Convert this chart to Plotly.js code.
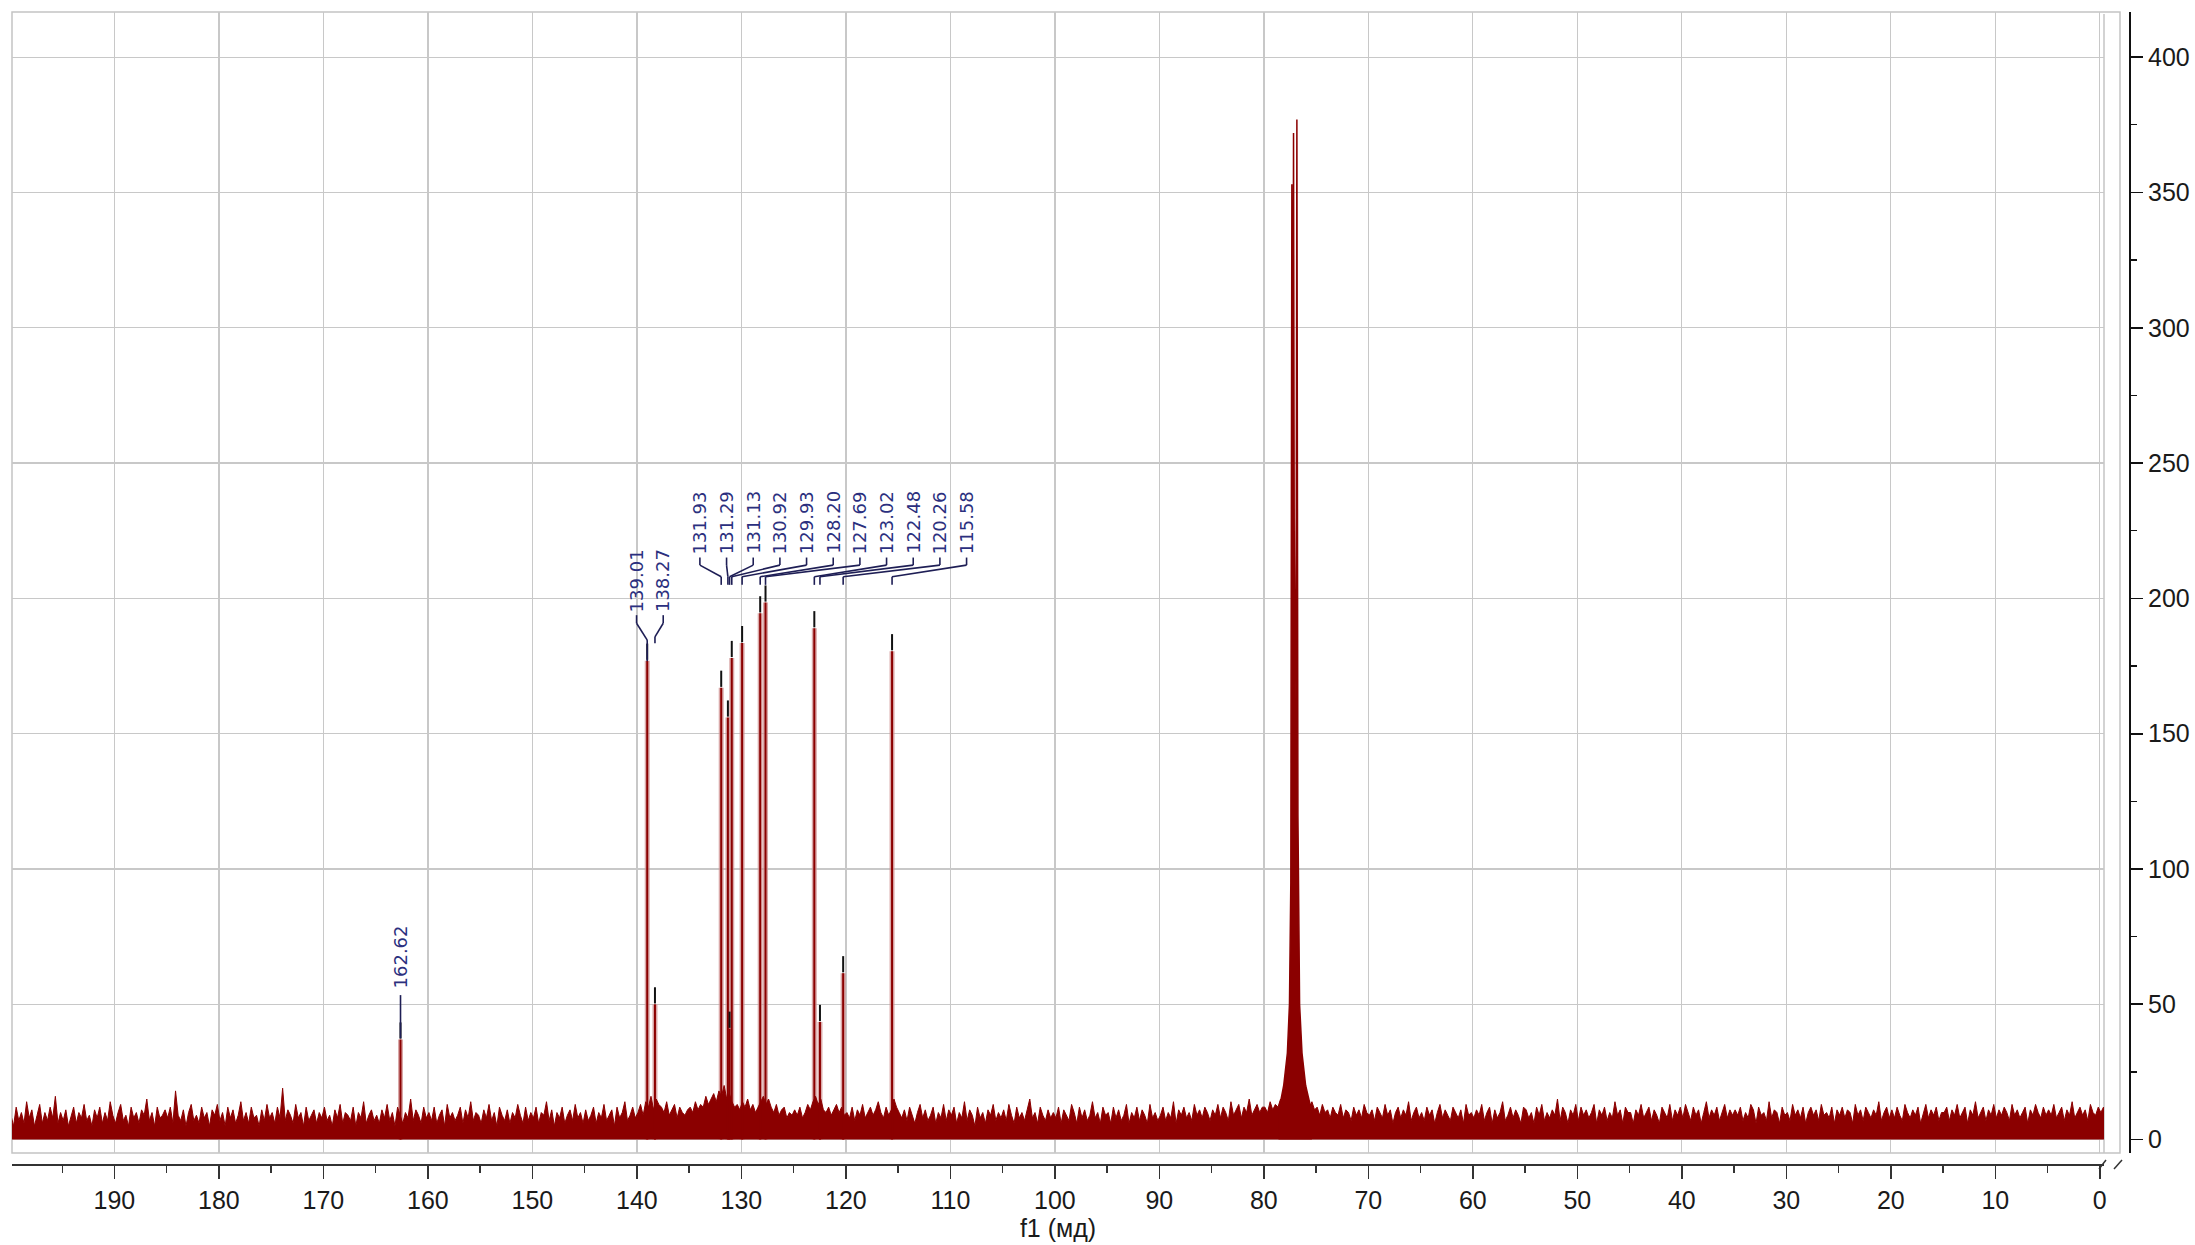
<!DOCTYPE html>
<html>
<head>
<meta charset="utf-8">
<script src="https://cdn.plot.ly/plotly-3.0.1.min.js"></script>
<style>html,body{margin:0;padding:0;background:#fff;}#chart{width:2195px;height:1245px;}</style>
</head>
<body>
<div id="chart"></div>
<script>
// ---------------- DATA ----------------
// Picked peaks (ppm) and their intensities
const peakPpm = [162.62, 139.01, 138.27, 131.93, 131.29, 131.13, 130.92, 129.93, 128.20, 127.69, 123.02, 122.48, 120.26, 115.58];
const peakInt = [37, 177, 50, 167, 156, 41, 178, 183.5, 194.5, 198.5, 189, 43.5, 61.5, 180.5];
const peakLabels = ["162.62", "139.01", "138.27", "131.93", "131.29", "131.13", "130.92", "129.93", "128.20", "127.69", "123.02", "122.48", "120.26", "115.58"];

// CDCl3 solvent multiplet profile
const solventPpm = [78.6, 78.1, 77.75, 77.55, 77.42, 77.32, 77.24, 77.16, 77.06, 76.98, 76.90, 76.84, 76.74, 76.58, 76.35, 76.0, 75.4];
const solventInt = [10, 20, 32, 50, 95, 353, 190, 372, 150, 175, 230, 377, 120, 50, 32, 20, 10];

// Baseline noise, sampled every 0.25 ppm starting at 199.9 ppm
const noiseStart = 199.9, noiseStep = 0.25;
const noiseInt = [
9,5,12,7,10,6,14,8,11,5,9,13,6,10,7,12,8,16,6,10,
7,11,5,9,12,6,10,8,13,7,9,5,11,8,12,6,10,7,14,9,
6,10,13,7,9,5,12,8,10,6,11,9,15,7,10,5,12,8,9,11,
8,12,6,18,9,7,11,5,10,13,7,9,6,12,8,10,5,11,9,13,
7,10,5,12,8,11,6,9,14,7,10,6,12,8,9,5,11,7,13,8,
10,6,12,8,19,7,11,9,6,13,8,10,5,12,7,9,11,6,10,8,
12,7,9,5,11,8,13,6,10,9,7,12,5,10,8,14,6,9,11,7,
9,6,11,8,13,7,10,5,12,9,6,10,8,15,7,11,9,6,12,8,
10,7,12,6,9,11,5,13,8,10,7,9,12,6,11,8,14,7,10,9,
6,11,8,13,7,10,5,12,9,7,11,6,10,8,13,9,6,12,7,10,
8,12,6,10,9,14,7,11,5,10,8,12,6,9,11,7,13,8,10,6,
11,7,9,12,6,10,8,13,7,9,11,5,12,8,10,14,7,9,12,8,
10,13,9,14,12,16,11,15,13,12,10,14,9,11,13,8,12,10,9,11,
12,10,14,11,13,12,16,13,15,17,14,18,16,20,15,17,14,12,13,11,
14,12,15,11,13,10,12,14,16,13,15,12,10,13,9,11,12,8,10,9,
11,9,12,8,10,13,11,14,16,13,15,11,10,12,9,11,13,10,12,9,
10,8,12,7,11,9,13,8,10,12,9,11,14,10,8,12,9,11,15,12,
10,8,11,7,12,9,6,10,13,8,11,7,9,12,6,10,8,13,7,11,
9,12,6,10,8,14,7,11,9,5,12,8,10,6,11,9,13,7,10,8,
11,7,13,9,6,12,8,10,7,11,15,8,10,6,12,9,7,11,8,10,
8,12,6,11,9,7,13,10,6,12,8,11,7,9,14,8,10,6,12,9,
10,6,12,8,11,7,9,13,6,10,8,12,7,11,9,6,13,8,10,7,
9,12,7,10,8,14,6,11,9,12,8,10,7,13,9,11,8,12,10,7,
11,9,13,8,12,10,7,14,9,11,13,8,12,10,15,9,11,13,10,12,
12,10,14,11,13,12,15,13,16,18,22,25,24,20,17,15,13,12,14,11,
12,9,13,10,11,8,12,10,9,13,8,11,10,7,12,9,11,8,13,10,
9,11,7,12,10,8,13,9,11,6,10,12,8,11,9,14,7,10,12,8,
10,7,12,9,11,6,10,13,8,11,9,7,12,10,8,11,6,13,9,10,
8,11,9,13,7,10,12,6,11,8,10,14,7,9,12,8,11,9,6,12,
11,8,10,6,12,9,13,7,10,8,11,9,15,7,12,10,6,11,9,13,
7,12,9,11,8,10,13,6,11,9,12,7,10,8,14,9,11,6,12,10,
10,6,11,9,13,8,10,12,7,11,9,6,12,10,8,13,7,11,9,12,
8,13,10,7,12,9,11,6,10,14,8,11,9,12,7,10,13,8,11,9,
11,9,12,7,10,8,13,11,6,12,9,10,7,14,8,11,10,6,12,9,
10,7,13,9,11,8,12,6,10,12,9,11,7,13,9,10,8,12,6,11,
9,12,8,11,10,6,13,9,11,7,12,10,8,11,9,14,7,10,12,8,
11,8,12,9,7,13,10,8,11,9,12,6,10,13,8,11,9,12,7,10,
10,12,7,11,9,13,8,10,12,6,11,9,14,8,10,12,7,11,9,13,
8,11,9,12,10,7,13,9,11,8,10,12,6,11,9,13,10,8,12,9,
11,9,13,8,10,12,7,11,9,14,8,10,12,9,11,7,13,10,9,12,
10,12,9,11,8,13,10,9,12,11,10,9,11,12,10,9,11,10,12,9
];

// Axis ticks
const xTickVals = [0,10,20,30,40,50,60,70,80,90,100,110,120,130,140,150,160,170,180,190];
const yTickVals = [0,50,100,150,200,250,300,350,400];

// ---------------- STYLE / LAYOUT ----------------
const RED = '#8b0000';
const NAVY = '#2b2f7e';
const LEAD = '#1e1e55';
const tickFont = {family: 'Liberation Sans, Arial, sans-serif', size: 25, color: '#1a1a1a'};
const labelFont = {family: 'DejaVu Sans, Verdana, sans-serif', size: 18, color: NAVY};

const noiseX = noiseInt.map((v, i) => noiseStart - i * noiseStep);

const px = [], py = [];
peakPpm.forEach((p, i) => { px.push(p, p, null); py.push(0, peakInt[i], null); });

const traces = [];
traces.push({x: px, y: py, type: 'scatter', mode: 'lines', line: {color: 'rgba(205,140,140,0.75)', width: 5}, hoverinfo: 'skip'});
traces.push({x: noiseX, y: noiseInt, type: 'scatter', mode: 'lines', fill: 'tozeroy',
  fillcolor: RED, line: {color: RED, width: 1}, hoverinfo: 'skip'});
traces.push({x: solventPpm, y: solventInt, type: 'scatter', mode: 'lines', fill: 'tozeroy',
  fillcolor: RED, line: {color: RED, width: 1.5}, hoverinfo: 'skip'});
traces.push({x: px, y: py, type: 'scatter', mode: 'lines', line: {color: RED, width: 2}, hoverinfo: 'skip'});

const shapes = [];
const annotations = [];
function seg(x0, y0, x1, y1, color, w) {
  shapes.push({type: 'line', xref: 'x', yref: 'y', x0: x0, y0: y0, x1: x1, y1: y1, line: {color: color, width: w}});
}
peakPpm.forEach((p, i) => seg(p, peakInt[i] + 0.3, p, peakInt[i] + 6.3, '#111', 2));

annotations.push({x: peakPpm[0], y: 67.5, xref: 'x', yref: 'y', text: peakLabels[0], textangle: -90,
  showarrow: false, font: labelFont, xanchor: 'center', yanchor: 'middle'});
seg(peakPpm[0], 53.4, peakPpm[0], 37.5, LEAD, 1.6);

const pairX = [140.03, 137.48];
[1, 2].forEach((idx, k) => {
  const lx = pairX[k], p = peakPpm[idx];
  annotations.push({x: lx, y: 206.5, xref: 'x', yref: 'y', text: peakLabels[idx], textangle: -90,
    showarrow: false, font: labelFont, xanchor: 'center', yanchor: 'middle'});
  seg(lx, 193.8, lx, 190.8, LEAD, 1.6);
  const yb = k === 0 ? 184.6 : 185.8;
  seg(lx, 190.8, p, yb, LEAD, 1.6);
  seg(p, yb, p, k === 0 ? 176.8 : 183.4, LEAD, 1.6);
});

const clusterLeft = 133.97, clusterGap = 2.552;
for (let idx = 3; idx < peakPpm.length; idx++) {
  const k = idx - 3;
  const lx = clusterLeft - k * clusterGap, p = peakPpm[idx];
  annotations.push({x: lx, y: 228, xref: 'x', yref: 'y', text: peakLabels[idx], textangle: -90,
    showarrow: false, font: labelFont, xanchor: 'center', yanchor: 'middle'});
  seg(lx, 215.1, lx, 212.3, LEAD, 1.6);
  seg(lx, 212.3, p, 208, LEAD, 1.6);
  seg(p, 208, p, 205, LEAD, 1.6);
}

const L = 12, R = 2130, T = 12, B = 1164, W = R - L, H = B - T;
const pxp = v => (v - L) / W, pyp = v => (B - v) / H;
shapes.push({type: 'rect', xref: 'paper', yref: 'paper', x0: 0, x1: pxp(2120), y0: pyp(1153), y1: 1,
  line: {color: '#c4c4c4', width: 1.5}, layer: 'below'});
shapes.push({type: 'line', xref: 'paper', yref: 'paper', x0: pxp(2104), x1: pxp(2104), y0: pyp(1153), y1: pyp(14),
  line: {color: '#c4c4c4', width: 1.5}, layer: 'below'});
shapes.push({type: 'line', xref: 'paper', yref: 'paper', x0: pxp(2099), y0: pyp(1169), x1: pxp(2106), y1: pyp(1160),
  line: {color: '#333', width: 1.5}});
shapes.push({type: 'line', xref: 'paper', yref: 'paper', x0: pxp(2114), y0: pyp(1169), x1: pxp(2122), y1: pyp(1160),
  line: {color: '#333', width: 1.5}});

const layout = {
  width: 2195, height: 1245,
  margin: {l: L, r: 2195 - R, t: T, b: 1245 - B, pad: 0},
  paper_bgcolor: '#fff', plot_bgcolor: '#fff',
  showlegend: false,
  xaxis: {
    domain: [0, pxp(2104)], range: [199.8, -0.4], anchor: 'free', position: 0,
    tickmode: 'array', tickvals: xTickVals, ticktext: xTickVals.map(String),
    ticks: 'outside', ticklen: 13, tickwidth: 1.5, tickcolor: '#333',
    showline: true, linecolor: '#333', linewidth: 1.5,
    showgrid: true, gridcolor: '#c8c8c8', gridwidth: 1.3, zeroline: false,
    tickfont: tickFont,
    minor: {dtick: 5, tick0: 0, ticks: 'outside', ticklen: 7, tickwidth: 1.3, tickcolor: '#333', showgrid: false},
    title: {text: 'f1 (мд)', font: tickFont, standoff: 2}
  },
  yaxis: {
    domain: [pyp(1153), 1], range: [-4.95, 416.7], side: 'right', anchor: 'free', position: 1,
    tickmode: 'array', tickvals: yTickVals, ticktext: yTickVals.map(String),
    ticks: 'outside', ticklen: 12, tickwidth: 1.6, tickcolor: '#111',
    showline: true, linecolor: '#111', linewidth: 2,
    showgrid: true, gridcolor: '#c8c8c8', gridwidth: 1.3, zeroline: false,
    tickfont: tickFont,
    minor: {dtick: 25, tick0: 0, ticks: 'outside', ticklen: 6, tickwidth: 1.3, tickcolor: '#111', showgrid: false}
  },
  shapes: shapes,
  annotations: annotations
};

Plotly.newPlot('chart', traces, layout, {staticPlot: true, displayModeBar: false});
</script>
</body>
</html>
